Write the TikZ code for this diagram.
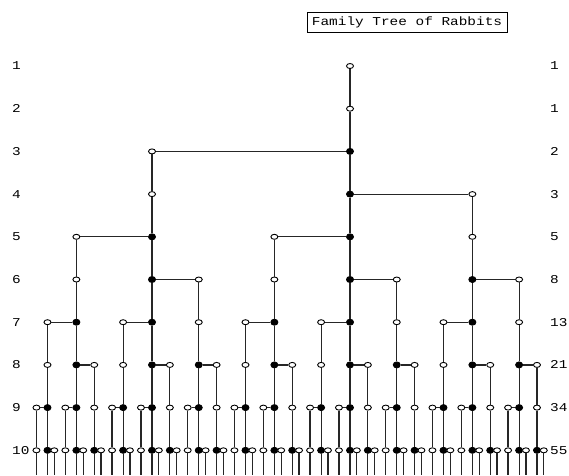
\documentclass[tikz,border=0pt]{standalone}
\usepackage{fontspec}
\newfontfamily\pixfont[FakeStretch=1.2]{Liberation Mono}
\usetikzlibrary{shapes.geometric}

\tikzset{
  young/.style={ellipse,draw,fill=white,line width=0.9pt,minimum width=7pt,minimum height=5pt,inner sep=0pt},
  adult/.style={ellipse,draw,fill=black,line width=0.9pt,minimum width=7pt,minimum height=6pt,inner sep=0pt},
  lineage/.style={line width=1.2pt,black!85},
  rowlabel/.style={anchor=west,inner sep=0pt,font=\pixfont\fontsize{12}{12}\selectfont},
}

% one pair of rabbits: #1 = x, #2 = row of birth, #3 = name
\newcommand{\rabbitpair}[3]{%
  \foreach \r in {#2,...,10}{
    \pgfmathsetmacro{\ry}{66+42.7*(\r-1)}
    \pgfmathtruncatemacro{\age}{\r-#2}
    \ifnum\age<2
      \node[young] (#3-\r) at (#1,\ry) {};
    \else
      \node[adult] (#3-\r) at (#1,\ry) {};
    \fi
    \ifnum\age>0
      \pgfmathtruncatemacro{\prev}{\r-1}
      \draw[lineage] (#3-\prev) -- (#3-\r);
    \fi
    % a grown pair gives a new pair every month
    \ifnum\age>1
      \ifodd\r \def\side{-1}\else \def\side{1}\fi
      \pgfmathsetmacro{\cx}{#1+\side*838.7/(1.618034^\r)}
      \edef\spawn{\noexpand\rabbitpair{\cx}{\r}{#3-\r}}
      \spawn
      \draw[lineage] (#3-\r) -- (#3-\r-\r);
    \fi
  }
  \coordinate (#3-end) at (#1,475);
  \draw[lineage] (#3-10) -- (#3-end);
}

\begin{document}
\begin{tikzpicture}[x=1pt,y=-1pt]
\useasboundingbox (0,0) rectangle (569,475);

% title
\node[draw,line width=0.9pt,minimum width=200pt,minimum height=20pt,inner sep=2pt,
  font=\pixfont\fontsize{12}{12}\selectfont] (title) at (407,22.5) {Family Tree of Rabbits};

% months and number of pairs
\foreach \r/\n in {1/1,2/1,3/2,4/3,5/5,6/8,7/13,8/21,9/34,10/55}{
  \pgfmathsetmacro{\ry}{66+42.7*(\r-1)}
  \node[rowlabel] (month-\r) at (12,\ry) {\r};
  \node[rowlabel] (pairs-\r) at (550,\ry) {\n};
}

% the tree
\rabbitpair{350}{1}{p}

\end{tikzpicture}
\end{document}
